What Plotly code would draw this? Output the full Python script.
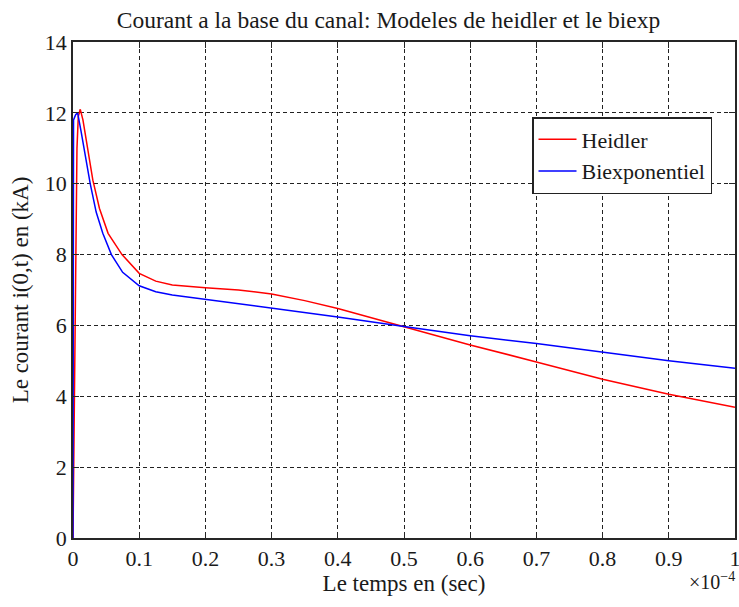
import plotly.graph_objects as go

# time in units of 1e-4 s
t_heidler = [0, 0.002, 0.004, 0.006, 0.008, 0.011, 0.015, 0.02, 0.03, 0.04, 0.053, 0.074,
             0.1, 0.125, 0.15, 0.2, 0.25, 0.3, 0.35, 0.4, 0.45, 0.5, 0.6, 0.7, 0.8, 0.9, 1.0]
i_heidler = [0, 3.5, 7.0, 11.0, 11.9, 12.1, 11.8, 11.2, 10.1, 9.3, 8.6, 8.0,
             7.47, 7.25, 7.14, 7.06, 7.0, 6.89, 6.7, 6.48, 6.22, 5.96, 5.45, 4.97, 4.48, 4.06, 3.69]

t_biexp = [0, 0.0008, 0.004, 0.007, 0.012, 0.018, 0.026, 0.035, 0.045, 0.058, 0.075,
           0.1, 0.125, 0.15, 0.2, 0.3, 0.4, 0.5, 0.6, 0.7, 0.8, 0.9, 1.0]
i_biexp = [0, 11.8, 11.95, 12.0, 11.5, 10.8, 10.0, 9.2, 8.6, 8.0, 7.5,
           7.12, 6.95, 6.86, 6.74, 6.48, 6.24, 5.97, 5.71, 5.49, 5.24, 5.0, 4.79]

x_ticks = [0, 0.1, 0.2, 0.3, 0.4, 0.5, 0.6, 0.7, 0.8, 0.9, 1]
x_tick_labels = ["0", "0.1", "0.2", "0.3", "0.4", "0.5", "0.6", "0.7", "0.8", "0.9", "1"]
y_ticks = [0, 2, 4, 6, 8, 10, 12, 14]

FONT = "Liberation Serif, Times New Roman, serif"
TXT = "#1a1a1a"

W, H = 739, 607
ML, MR, MT, MB = 73, 4, 42, 69
PW = W - ML - MR
PH = H - MT - MB

fig = go.Figure()
fig.add_trace(go.Scatter(x=t_heidler, y=i_heidler, mode="lines", name="Heidler",
                         line=dict(color="#ff0000", width=1.5)))
fig.add_trace(go.Scatter(x=t_biexp, y=i_biexp, mode="lines", name="Biexponentiel",
                         line=dict(color="#0000ff", width=1.5)))

axis_common = dict(
    automargin=False,
    showline=True, linecolor="#262626", linewidth=1.5, mirror="ticks",
    ticks="inside", ticklen=6, tickcolor="#262626", tickwidth=1,
    showgrid=True, gridcolor="#222222", gridwidth=1, griddash="4px,3px",
    zeroline=False, tickfont=dict(family=FONT, size=22, color=TXT),
    ticklabeloverflow="allow",
)

fig.update_xaxes(range=[0, 1], tickvals=x_ticks, ticktext=x_tick_labels,
                 title=dict(text="Le temps en (sec)", font=dict(family=FONT, size=23, color=TXT),
                            standoff=4),
                 **axis_common)
fig.update_yaxes(range=[0, 14], tickvals=y_ticks,
                 title=dict(text="Le courant i(0,t) en (kA)", font=dict(family=FONT, size=23, color=TXT),
                            standoff=10),
                 **axis_common)

fig.add_annotation(text="×10<sup>−4</sup>", xref="paper", yref="paper",
                   x=(737 - ML) / PW, y=-(581 - (MT + PH)) / PH,
                   xanchor="right", yanchor="middle", showarrow=False,
                   font=dict(family=FONT, size=20, color=TXT))

fig.update_layout(
    width=W, height=H,
    margin=dict(l=ML, r=MR, t=MT, b=MB, autoexpand=False),
    paper_bgcolor="white", plot_bgcolor="white",
    title=dict(text="Courant a la base du canal: Modeles de heidler et le biexp",
               font=dict(family=FONT, size=23.5, color=TXT),
               x=388.5 / W, xanchor="center", y=1 - 20 / H, yanchor="middle"),
    legend=dict(x=(712 - ML) / PW, y=(538 - 117) / PH, xanchor="right", yanchor="top",
                bgcolor="white", bordercolor="#222222", borderwidth=1.5,
                font=dict(family=FONT, size=22, color=TXT),
                tracegroupgap=0, itemwidth=38),
    showlegend=True,
)

fig.write_html("out.html",
               config={"displayModeBar": False},
               post_script="document.body.style.margin='0';document.body.style.overflow='hidden';")
